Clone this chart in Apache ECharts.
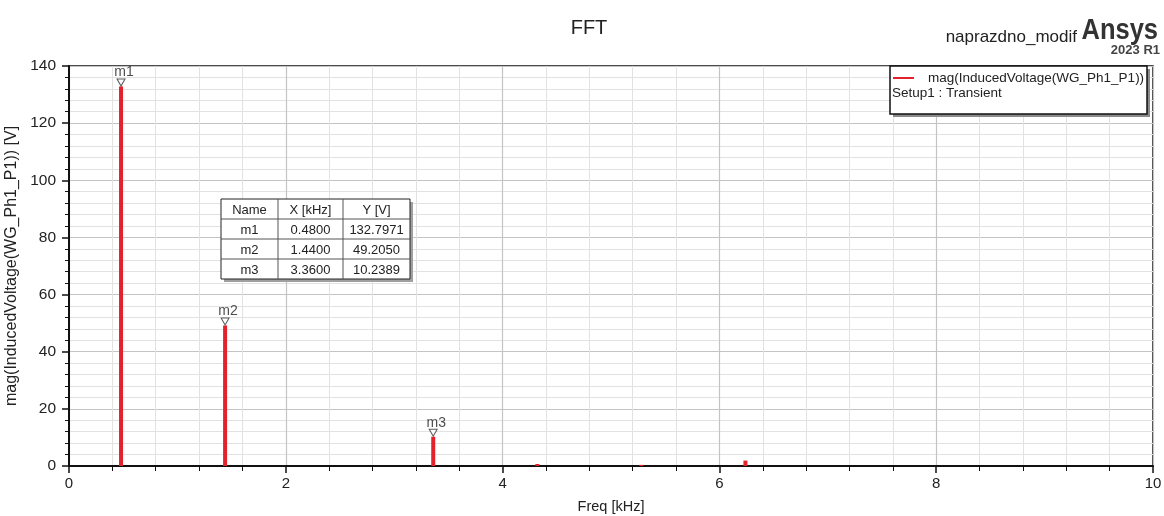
<!DOCTYPE html>
<html>
<head>
<meta charset="utf-8">
<script src="https://cdn.jsdelivr.net/npm/echarts@6/dist/echarts.min.js"></script>
<style>
  html, body { margin: 0; padding: 0; background: #fff; }
  #chart { width: 1164px; height: 516px; }
</style>
</head>
<body>
<div id="chart"></div>
<script>
// FFT spectrum lines: frequency (kHz) and magnitude (V)
const freqs = [0.48, 1.44, 3.36, 4.32, 5.28, 6.24];
const mags = [132.7971, 49.2050, 10.2389, 0.7, 0.4, 1.9];

// Markers placed on the first three harmonics
const markerNames = ['m1', 'm2', 'm3'];
const markerIdx = [0, 1, 2];

const seriesName = 'mag(InducedVoltage(WG_Ph1_P1))';
const setupName = 'Setup1 : Transient';
const FONT = '"Liberation Sans", Arial, sans-serif';
const RED = '#e3222b';
const TOPZ = 100;

const chart = echarts.init(document.getElementById('chart'));

// put every overlay element above the grid and series
function onTop(el) { el.z = TOPZ; el.zlevel = 1; return el; }

// Marker table (Name / X / Y) built from the same arrays as the marks
function buildTable() {
  const x0 = 221, y0 = 199, colW = [57, 65, 67], rowH = 20;
  const header = ['Name', 'X [kHz]', 'Y [V]'];
  const rows = markerIdx.map((i, k) => [markerNames[k], freqs[i].toFixed(4), mags[i].toFixed(4)]);
  const all = [header].concat(rows);
  const W = colW.reduce((a, b) => a + b, 0), H = rowH * all.length;
  const els = [];
  els.push({ type: 'rect', shape: { x: x0 + 3, y: y0 + 3, width: W, height: H }, style: { fill: '#a0a0a0' } });
  els.push({ type: 'rect', shape: { x: x0, y: y0, width: W, height: H }, style: { fill: '#fff', stroke: '#222', lineWidth: 1 } });
  for (let r = 1; r < all.length; r++) {
    els.push({ type: 'line', shape: { x1: x0, y1: y0 + r * rowH, x2: x0 + W, y2: y0 + r * rowH }, style: { stroke: '#555', lineWidth: 1 } });
  }
  let cx = x0;
  colW.forEach((w, c) => {
    if (c > 0) els.push({ type: 'line', shape: { x1: cx, y1: y0, x2: cx, y2: y0 + H }, style: { stroke: '#555', lineWidth: 1 } });
    all.forEach((row, r) => {
      els.push({ type: 'text', style: { text: row[c], x: cx + w / 2, y: y0 + r * rowH + rowH / 2 + 1, align: 'center', verticalAlign: 'middle', font: '13px ' + FONT, fill: '#222' } });
    });
    cx += w;
  });
  return els.map(onTop);
}

// Legend box in the upper right corner
function buildLegend() {
  const x0 = 890, y0 = 66, W = 257, H = 48;
  return [
    { type: 'rect', shape: { x: x0 + 3, y: y0 + 3, width: W, height: H }, style: { fill: '#8a8a8a' } },
    { type: 'rect', shape: { x: x0, y: y0, width: W, height: H }, style: { fill: '#fff', stroke: '#111', lineWidth: 1.5 } },
    { type: 'line', shape: { x1: 893, y1: 78, x2: 914, y2: 78 }, style: { stroke: RED, lineWidth: 2 } },
    { type: 'text', style: { text: seriesName, x: 928, y: 78, verticalAlign: 'middle', font: '13.5px ' + FONT, fill: '#222' } },
    { type: 'text', style: { text: setupName, x: 892, y: 93, verticalAlign: 'middle', font: '13.5px ' + FONT, fill: '#222' } }
  ].map(onTop);
}

// Project caption and product badge
function buildBadge() {
  return [
    { type: 'text', style: { text: 'naprazdno_modif', x: 1077, y: 37, align: 'right', verticalAlign: 'middle', font: '17px ' + FONT, fill: '#222' } },
    { type: 'text', x: 1158, y: 46, scaleX: 0.85, style: { text: 'Ansys', x: 0, y: 0, align: 'right', verticalAlign: 'bottom', font: 'bold 30px ' + FONT, fill: '#333' } },
    { type: 'text', style: { text: '2023 R1', x: 1160, y: 50, align: 'right', verticalAlign: 'middle', font: 'bold 13px ' + FONT, fill: '#444' } }
  ].map(onTop);
}

const option = {
  backgroundColor: '#fff',
  animation: false,
  title: {
    text: 'FFT', left: 584, top: 13, textAlign: 'center',
    textStyle: { fontFamily: FONT, fontSize: 20, fontWeight: 'normal', color: '#222' }
  },
  grid: {
    left: 69, right: 11, top: 66, bottom: 50, outerBoundsMode: 'none', containLabel: false,
    show: true, borderColor: '#111', borderWidth: 1.5, backgroundColor: 'transparent'
  },
  xAxis: {
    type: 'value', min: 0, max: 10, interval: 2,
    name: 'Freq [kHz]', nameLocation: 'middle', nameGap: 33,
    nameTextStyle: { fontFamily: FONT, fontSize: 14.5, color: '#222' },
    axisLine: { show: true, onZero: false, lineStyle: { color: '#111', width: 2 } },
    axisTick: { show: true, length: 7, lineStyle: { color: '#111', width: 1.5 } },
    minorTick: { show: true, splitNumber: 5, length: 5, lineStyle: { color: '#111', width: 1 } },
    axisLabel: { fontFamily: FONT, fontSize: 15, color: '#222', margin: 10 },
    splitLine: { show: true, lineStyle: { color: '#c4c4c4', width: 1.2 } },
    minorSplitLine: { show: true, lineStyle: { color: '#e2e2e2', width: 1 } }
  },
  yAxis: {
    type: 'value', min: 0, max: 140, interval: 20,
    name: 'mag(InducedVoltage(WG_Ph1_P1)) [V]', nameLocation: 'middle', nameGap: 46, nameRotate: 90,
    nameTextStyle: { fontFamily: FONT, fontSize: 16, color: '#222' },
    axisLine: { show: true, lineStyle: { color: '#111', width: 2 } },
    axisTick: { show: true, length: 7, lineStyle: { color: '#111', width: 1.5 } },
    minorTick: { show: true, splitNumber: 5, length: 4, lineStyle: { color: '#111', width: 1 } },
    axisLabel: { fontFamily: FONT, fontSize: 15.5, color: '#222', margin: 13 },
    splitLine: { show: true, lineStyle: { color: '#c4c4c4', width: 1.2 } },
    minorSplitLine: { show: true, lineStyle: { color: '#e2e2e2', width: 1 } }
  },
  series: [
    {
      name: seriesName, type: 'bar', barWidth: 4,
      itemStyle: { color: RED },
      data: freqs.map((f, i) => [f, mags[i]]),
      z: 3
    },
    {
      name: 'markers', type: 'scatter',
      symbol: 'path://M0,0 L10,0 L5,9 Z', symbolSize: [8, 7], symbolOffset: [0, -4],
      itemStyle: { color: '#fff', borderColor: '#333', borderWidth: 1 },
      label: {
        show: true, position: 'top', distance: 0, offset: [3, 1],
        formatter: p => markerNames[p.dataIndex],
        fontFamily: FONT, fontSize: 14, color: '#222'
      },
      data: markerIdx.map(i => [freqs[i], mags[i]]),
      z: 5
    }
  ],
  graphic: [].concat(buildBadge(), buildTable(), buildLegend())
};

chart.setOption(option);
</script>
</body>
</html>
